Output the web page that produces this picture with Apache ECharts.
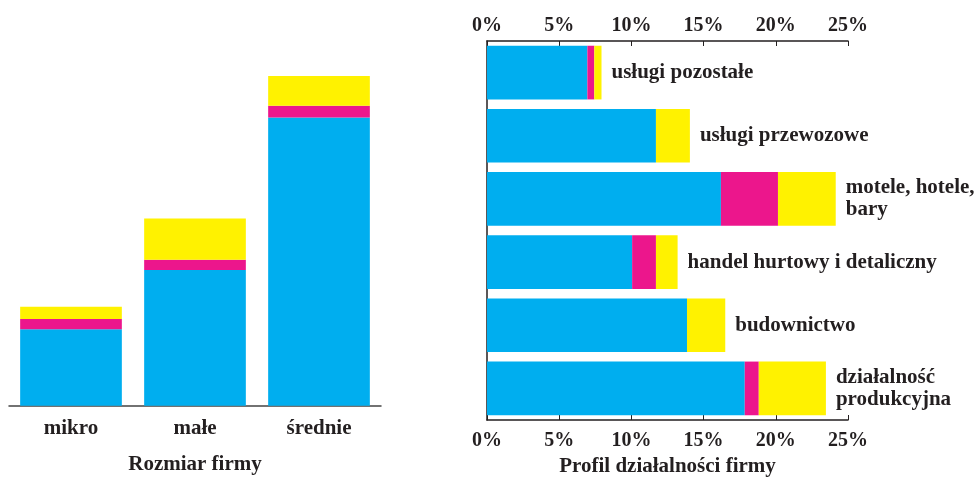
<!DOCTYPE html>
<html>
<head>
<meta charset="utf-8">
<script src="https://cdn.jsdelivr.net/npm/echarts@6/dist/echarts.min.js"></script>
<style>
  html, body { margin: 0; padding: 0; background: #fff; }
  #chart { width: 977px; height: 477px; }
</style>
</head>
<body>
<div id="chart"></div>
<script>
// rozmiar firmy (lewy wykres)
var sizeCats = ['mikro', 'małe', 'średnie'];
var sizeBlue = [5.3, 9.4, 19.95];
var sizePink = [0.7, 0.7, 0.83];
var sizeYellow = [0.85, 2.86, 2.06];

// profil działalności (prawy wykres)
var profCats = ['usługi pozostałe', 'usługi przewozowe', 'motele, hotele,\nbary',
    'handel hurtowy i detaliczny', 'budownictwo', 'działalność\nprodukcyjna'];
var profBlue = [6.95, 11.7, 16.2, 10.05, 13.85, 17.85];
var profPink = [0.48, 0, 3.95, 1.65, 0, 0.97];
var profYellow = [0.5, 2.35, 4.0, 1.5, 2.65, 4.65];
var pctTicks = [0, 5, 10, 15, 20, 25];

var BLUE = '#00AEEF', PINK = '#EC168C', YELLOW = '#FFF200';
var INK = '#231F20';
var FONT = '"Liberation Serif", "Times New Roman", serif';

var myChart = echarts.init(document.getElementById('chart'));

function txt(size){
    return { fontFamily: FONT, fontWeight: 'bold', fontSize: size, color: INK };
}

var pctAxis = function(pos, gap){
    return {
        type: 'value', gridIndex: 1, position: pos,
        min: pctTicks[0], max: pctTicks[pctTicks.length - 1], interval: 5,
        splitLine: { show: false },
        axisLine: { show: true, lineStyle: { color: INK, width: 1.5 } },
        axisTick: { show: true, inside: true, length: 5, lineStyle: { color: INK } },
        axisLabel: Object.assign(txt(20), { margin: gap, formatter: '{value}%' })
    };
};

var bottomPct = pctAxis('bottom', 11);
bottomPct.name = 'Profil działalności firmy';
bottomPct.nameLocation = 'middle';
bottomPct.nameGap = 35;
bottomPct.nameTextStyle = txt(21);

option = {
    animation: false,
    grid: [
        { left: 9, width: 372, top: 44.7, bottom: 71.3, outerBoundsMode: 'none' },
        { left: 487, right: 129, top: 41, bottom: 57, outerBoundsMode: 'none' }
    ],
    xAxis: [
        {
            type: 'category', gridIndex: 0, data: sizeCats,
            axisLine: { show: true, lineStyle: { color: '#444', width: 1.5 } },
            axisTick: { show: false },
            axisLabel: Object.assign(txt(21), { margin: 12 }),
            name: 'Rozmiar firmy', nameLocation: 'middle', nameGap: 48,
            nameTextStyle: txt(21)
        },
        pctAxis('top', 5),
        bottomPct
    ],
    yAxis: [
        { type: 'value', gridIndex: 0, min: 0, max: 25, show: false },
        {
            type: 'category', gridIndex: 1, data: profCats, inverse: true,
            axisLine: { show: true, lineStyle: { color: INK, width: 1.5 } },
            axisTick: { show: false },
            axisLabel: { show: false }
        }
    ],
    series: [
        { type: 'bar', xAxisIndex: 0, yAxisIndex: 0, stack: 'a', barWidth: '82%',
          data: sizeBlue, itemStyle: { color: BLUE } },
        { type: 'bar', xAxisIndex: 0, yAxisIndex: 0, stack: 'a', barWidth: '82%',
          data: sizePink, itemStyle: { color: PINK } },
        { type: 'bar', xAxisIndex: 0, yAxisIndex: 0, stack: 'a', barWidth: '82%',
          data: sizeYellow, itemStyle: { color: YELLOW } },

        { type: 'bar', xAxisIndex: 2, yAxisIndex: 1, stack: 'b', barWidth: '85%',
          data: profBlue, itemStyle: { color: BLUE } },
        { type: 'bar', xAxisIndex: 2, yAxisIndex: 1, stack: 'b', barWidth: '85%',
          data: profPink, itemStyle: { color: PINK } },
        { type: 'bar', xAxisIndex: 2, yAxisIndex: 1, stack: 'b', barWidth: '85%',
          data: profYellow, itemStyle: { color: YELLOW },
          label: Object.assign(txt(21), {
              show: true, position: 'right', distance: 10, lineHeight: 22,
              formatter: function(p){ return p.name; }
          })
        }
    ]
};

myChart.setOption(option);
</script>
</body>
</html>
